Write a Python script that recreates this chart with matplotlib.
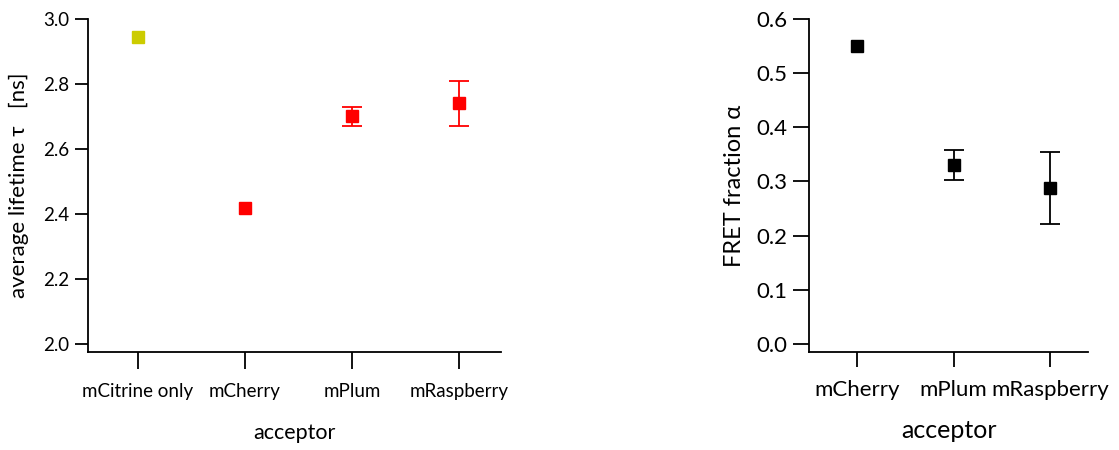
import matplotlib
matplotlib.use("Agg")
import matplotlib.pyplot as plt

plt.rcParams['font.family'] = ['Lato', 'DejaVu Sans']

# left panel: average lifetime
acc_left = ['mCitrine only', 'mCherry', 'mPlum', 'mRaspberry']
tau = [2.946, 2.418, 2.700, 2.740]
tau_err = [0.0, 0.0, 0.030, 0.070]
tau_colors = ['#cccc00', '#ff0000', '#ff0000', '#ff0000']

# right panel: FRET fraction
acc_right = ['mCherry', 'mPlum', 'mRaspberry']
alpha = [0.550, 0.330, 0.288]
alpha_err = [0.0, 0.028, 0.067]

fig = plt.figure(figsize=(11.19, 4.5), dpi=100)
ax1 = fig.add_axes([0.0786, 0.2178, 0.3691, 0.74])
ax2 = fig.add_axes([0.7230, 0.2178, 0.2493, 0.74])


def style(ax, ticksize, ylen, xlen, xpad):
    for s in ['top', 'right']:
        ax.spines[s].set_visible(False)
    for s in ['left', 'bottom']:
        ax.spines[s].set_linewidth(1.3)
    ax.tick_params(axis='y', length=ylen, width=1.3, labelsize=ticksize, pad=4)
    ax.tick_params(axis='x', length=xlen, width=1.3, labelsize=ticksize, pad=xpad)


for i in range(len(acc_left)):
    ax1.errorbar(i, tau[i], yerr=tau_err[i] if tau_err[i] > 0 else None,
                 fmt='s', color=tau_colors[i], ms=8.5, capsize=7, elinewidth=1.3,
                 capthick=1.3)
ax1.set_xticks(range(len(acc_left)))
ax1.set_xticklabels(acc_left)
ax1.set_xlim(-0.467, 3.39)
ax1.set_ylim(1.975, 3.0)
ax1.set_yticks([2.0, 2.2, 2.4, 2.6, 2.8, 3.0])
ax1.set_yticklabels(['%.1f' % v for v in [2.0, 2.2, 2.4, 2.6, 2.8, 3.0]])
ax1.set_xlabel('acceptor', fontsize=15.5, labelpad=17)
ax1.set_ylabel('average lifetime \u03c4   [ns]', fontsize=16, labelpad=10)
style(ax1, 13.5, 9.5, 12, 10)

for i in range(len(acc_right)):
    ax2.errorbar(i, alpha[i], yerr=alpha_err[i] if alpha_err[i] > 0 else None,
                 fmt='s', color='black', ms=8.5, capsize=7, elinewidth=1.3,
                 capthick=1.3)
ax2.set_xticks(range(len(acc_right)))
ax2.set_xticklabels(acc_right)
ax2.set_xlim(-0.495, 2.39)
ax2.set_ylim(-0.0148, 0.6)
ax2.set_yticks([0.0, 0.1, 0.2, 0.3, 0.4, 0.5, 0.6])
ax2.set_yticklabels(['%.1f' % v for v in [0.0, 0.1, 0.2, 0.3, 0.4, 0.5, 0.6]])
ax2.set_xlabel('acceptor', fontsize=18, labelpad=14)
ax2.set_ylabel('FRET fraction \u03b1', fontsize=17, labelpad=8)
style(ax2, 16, 11.5, 11, 9)

fig.savefig('out.png', dpi=100)
